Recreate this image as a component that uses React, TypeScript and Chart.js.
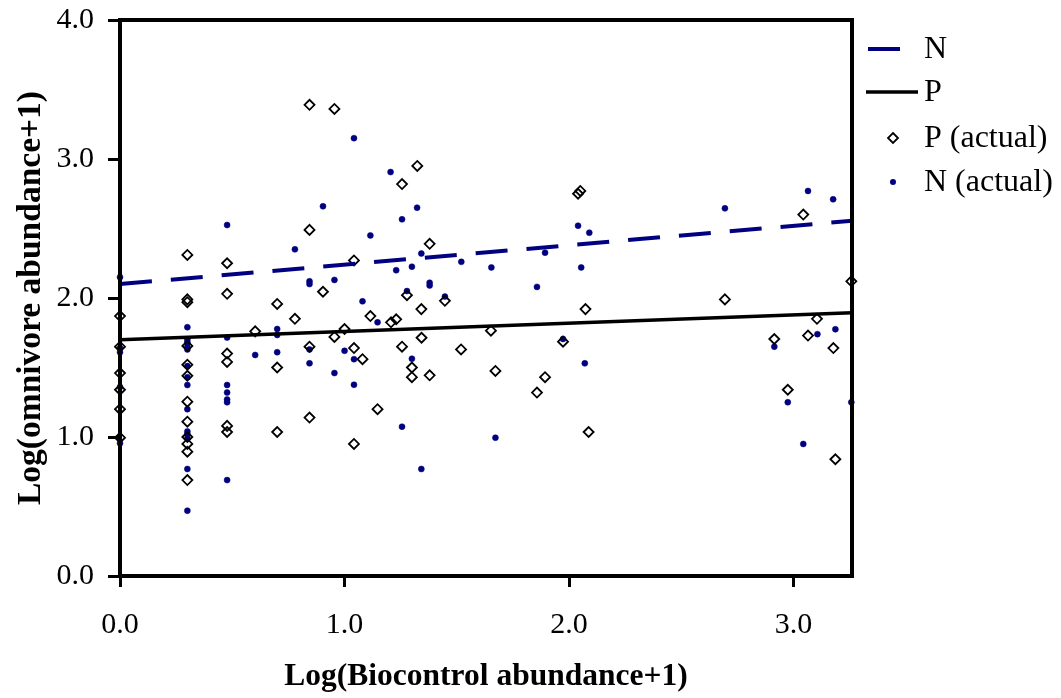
import React, { useEffect, useRef } from "react";
import { Chart, registerables } from "chart.js";

Chart.register(...registerables);

// Fitted trend lines (start and end of each regression line)
const nFitX = [0, 3.26];
const nFitY = [2.1, 2.556];
const pFitX = [0, 3.26];
const pFitY = [1.7, 1.894];

// P (actual) observations
const pActualX = [
  0, 0, 0, 0, 0, 0,
  0.3, 0.3, 0.3, 0.3, 0.3, 0.3, 0.3, 0.3, 0.3, 0.3, 0.3, 0.3,
  0.477, 0.477, 0.477, 0.477, 0.477, 0.477,
  0.602,
  0.7, 0.7, 0.7,
  0.779,
  0.844, 0.844, 0.844, 0.844,
  0.904,
  0.955, 0.955,
  1.0,
  1.042, 1.042, 1.042,
  1.08, 1.115, 1.147, 1.207, 1.23,
  1.256, 1.256,
  1.278,
  1.3, 1.3,
  1.324, 1.342, 1.343,
  1.379, 1.379,
  1.447, 1.519, 1.652, 1.672, 1.857, 1.893, 1.973,
  2.04, 2.05, 2.073, 2.087,
  2.694, 2.914, 2.974, 3.043, 3.064, 3.104, 3.177, 3.186, 3.257,
];
const pActualY = [
  1.87, 1.65, 1.46, 1.34, 1.2, 0.995,
  2.31, 1.99, 1.97, 1.655, 1.52, 1.44, 1.254, 1.11, 1.0, 0.95, 0.894, 0.69,
  2.25, 2.03, 1.6, 1.54, 1.08, 1.036,
  1.76,
  1.957, 1.5, 1.036,
  1.85,
  3.39, 2.49, 1.65, 1.14,
  2.045,
  3.36, 1.72,
  1.777,
  2.27, 1.64, 0.95,
  1.56, 1.87, 1.2, 1.825, 1.847,
  2.82, 1.65,
  2.02,
  1.5, 1.43,
  2.95, 1.92, 1.714,
  2.39, 1.444,
  1.98, 1.63, 1.765, 1.475, 1.32, 1.43, 1.686,
  2.75, 2.77, 1.92, 1.036,
  1.99, 1.705, 1.34, 2.6, 1.73, 1.85, 1.64, 0.84, 2.12,
];

// N (actual) observations
const nActualX = [
  0, 0, 0, 0, 0,
  0.3, 0.3, 0.3, 0.3, 0.3, 0.3, 0.3, 0.3, 0.3, 0.3, 0.3, 0.3, 0.3, 0.3,
  0.477, 0.477, 0.477, 0.477, 0.477, 0.477, 0.477,
  0.602,
  0.7, 0.7, 0.7,
  0.779,
  0.844, 0.844, 0.844, 0.844,
  0.904,
  0.955, 0.955,
  1.0,
  1.042, 1.042, 1.042,
  1.08, 1.115, 1.147, 1.205, 1.23,
  1.256, 1.256,
  1.278,
  1.3, 1.3,
  1.323,
  1.342, 1.342,
  1.379, 1.379,
  1.447, 1.52, 1.654, 1.672, 1.857, 1.893, 1.973,
  2.04, 2.054, 2.07, 2.09,
  2.694, 2.914, 2.974, 3.043, 3.064, 3.106, 3.176, 3.186, 3.257,
];
const nActualY = [
  2.15, 1.64, 1.61, 1.36, 0.955,
  1.79, 1.7, 1.68, 1.65, 1.63, 1.51, 1.43, 1.374, 1.2, 1.04, 1.02, 0.99, 0.77, 0.47,
  2.525, 1.715, 1.374, 1.32, 1.27, 1.25, 0.69,
  1.59,
  1.777, 1.734, 1.61,
  2.35,
  2.12, 2.1, 1.63, 1.53,
  2.66,
  2.13, 1.46,
  1.62,
  3.15, 1.56, 1.376,
  1.976, 2.45, 1.825, 2.906, 2.2,
  2.566, 1.074,
  2.05,
  2.225, 1.563,
  2.65,
  2.32, 0.77,
  2.11, 2.09,
  2.01, 2.26, 2.22, 0.995, 2.08, 2.326, 1.705,
  2.52, 2.22, 1.53, 2.47,
  2.645, 1.65, 1.25, 0.95, 2.77, 1.74, 2.71, 1.775, 1.25,
];

const xTicks = [0, 1, 2, 3];
const yTicks = [0, 1, 2, 3, 4];
const legendLabels = ["N", "P", "P (actual)", "N (actual)"];

const NAVY = "#000080";
const SERIF = "'Liberation Serif', 'Times New Roman', serif";
const DASH = [32, 19];

const toPts = (xs: number[], ys: number[]) => xs.map((x, i) => ({ x, y: ys[i] }));

const framePlugin = {
  id: "frame",
  afterDatasetsDraw(chart: any) {
    const { ctx, chartArea } = chart;
    ctx.save();
    ctx.strokeStyle = "#000";
    ctx.lineWidth = 4;
    ctx.strokeRect(chartArea.left, chartArea.top, chartArea.right - chartArea.left, chartArea.bottom - chartArea.top);
    ctx.restore();
  },
};

const legendPlugin = {
  id: "customLegend",
  afterDraw(chart: any) {
    const { ctx, chartArea } = chart;
    const r = chartArea.right;
    const t = chartArea.top;
    const rows = [t + 29, t + 72, t + 118, t + 162];
    const textX = r + 72;
    ctx.save();
    // N dashed line
    ctx.strokeStyle = NAVY;
    ctx.lineWidth = 4;
    ctx.setLineDash(DASH);
    ctx.beginPath();
    ctx.moveTo(r + 16, rows[0]);
    ctx.lineTo(r + 49, rows[0]);
    ctx.stroke();
    ctx.setLineDash([]);
    // P solid line
    ctx.strokeStyle = "#000";
    ctx.lineWidth = 3.5;
    ctx.beginPath();
    ctx.moveTo(r + 14, rows[1]);
    ctx.lineTo(r + 66, rows[1]);
    ctx.stroke();
    // diamond
    const dx = r + 41;
    ctx.lineWidth = 1.8;
    ctx.beginPath();
    ctx.moveTo(dx, rows[2] - 5);
    ctx.lineTo(dx + 5, rows[2]);
    ctx.lineTo(dx, rows[2] + 5);
    ctx.lineTo(dx - 5, rows[2]);
    ctx.closePath();
    ctx.stroke();
    // dot
    ctx.fillStyle = NAVY;
    ctx.beginPath();
    ctx.arc(dx, rows[3], 3, 0, Math.PI * 2);
    ctx.fill();
    // labels
    ctx.fillStyle = "#000";
    ctx.font = `32px ${SERIF}`;
    ctx.textBaseline = "middle";
    ctx.textAlign = "left";
    legendLabels.forEach((lab, i) => {
      ctx.fillText(lab, textX, rows[i] + 1);
    });
    ctx.restore();
  },
};

export default function App() {
  const ref = useRef<HTMLCanvasElement | null>(null);

  useEffect(() => {
    if (!ref.current) return;
    const chart = new Chart(ref.current, {
      type: "scatter",
      data: {
        datasets: [
          {
            label: "N",
            data: toPts(nFitX, nFitY),
            showLine: true,
            borderColor: NAVY,
            borderWidth: 4,
            borderDash: DASH,
            pointRadius: 0,
            fill: false,
            clip: false,
          } as any,
          {
            label: "P",
            data: toPts(pFitX, pFitY),
            showLine: true,
            borderColor: "#000",
            borderWidth: 3.5,
            pointRadius: 0,
            fill: false,
            clip: false,
          },
          {
            label: "P (actual)",
            data: toPts(pActualX, pActualY),
            pointStyle: "rectRot",
            pointRadius: 5,
            pointBackgroundColor: "rgba(0,0,0,0)",
            pointBorderColor: "#000",
            pointBorderWidth: 1.8,
            clip: false,
          },
          {
            label: "N (actual)",
            data: toPts(nActualX, nActualY),
            pointStyle: "circle",
            pointRadius: 3,
            pointBackgroundColor: NAVY,
            pointBorderColor: NAVY,
            pointBorderWidth: 0.5,
            clip: false,
          },
        ],
      },
      options: {
        animation: false,
        responsive: false,
        events: [],
        layout: { padding: { top: 20, right: 209, left: 0, bottom: 0 } },
        plugins: {
          legend: { display: false },
          tooltip: { enabled: false },
          title: { display: false },
        },
        scales: {
          x: {
            type: "linear",
            min: 0,
            max: 3.26,
            afterBuildTicks: (s: any) => {
              s.ticks = xTicks.map((v) => ({ value: v }));
            },
            afterFit: (s: any) => {
              s.height = 122;
              s.paddingLeft = 0;
              s.paddingRight = 0;
            },
            ticks: {
              callback: (v: any) => Number(v).toFixed(1),
              font: { family: SERIF, size: 30 },
              color: "#000",
              padding: 20,
              maxRotation: 0,
              autoSkip: false,
            },
            grid: {
              display: true,
              drawOnChartArea: false,
              drawTicks: true,
              tickLength: 11,
              tickWidth: 3,
              tickColor: "#000",
            },
            border: { display: false },
            title: {
              display: true,
              text: "Log(Biocontrol abundance+1)",
              font: { family: SERIF, size: 31.5, weight: "bold" },
              color: "#000",
              padding: { top: 0, bottom: 2 },
            },
          },
          y: {
            type: "linear",
            min: 0,
            max: 4,
            afterBuildTicks: (s: any) => {
              s.ticks = yTicks.map((v) => ({ value: v }));
            },
            afterFit: (s: any) => {
              s.width = 120;
              s.paddingTop = 0;
              s.paddingBottom = 0;
            },
            ticks: {
              callback: (v: any) => Number(v).toFixed(1),
              font: { family: SERIF, size: 30 },
              color: "#000",
              padding: 14,
              autoSkip: false,
            },
            grid: {
              display: true,
              drawOnChartArea: false,
              drawTicks: true,
              tickLength: 12,
              tickWidth: 3,
              tickColor: "#000",
            },
            border: { display: false },
            title: {
              display: true,
              text: "Log(omnivore abundance+1)",
              font: { family: SERIF, size: 33.5, weight: "bold" },
              color: "#000",
              padding: { top: 11, bottom: 0 },
            },
          },
        },
      },
      plugins: [framePlugin, legendPlugin],
    });
    return () => chart.destroy();
  }, []);

  return (
    <div style={{ position: "fixed", left: 0, top: 0, width: 1061, height: 698, background: "#fff" }}>
      <canvas ref={ref} width={1061} height={698} style={{ display: "block" }} />
    </div>
  );
}
